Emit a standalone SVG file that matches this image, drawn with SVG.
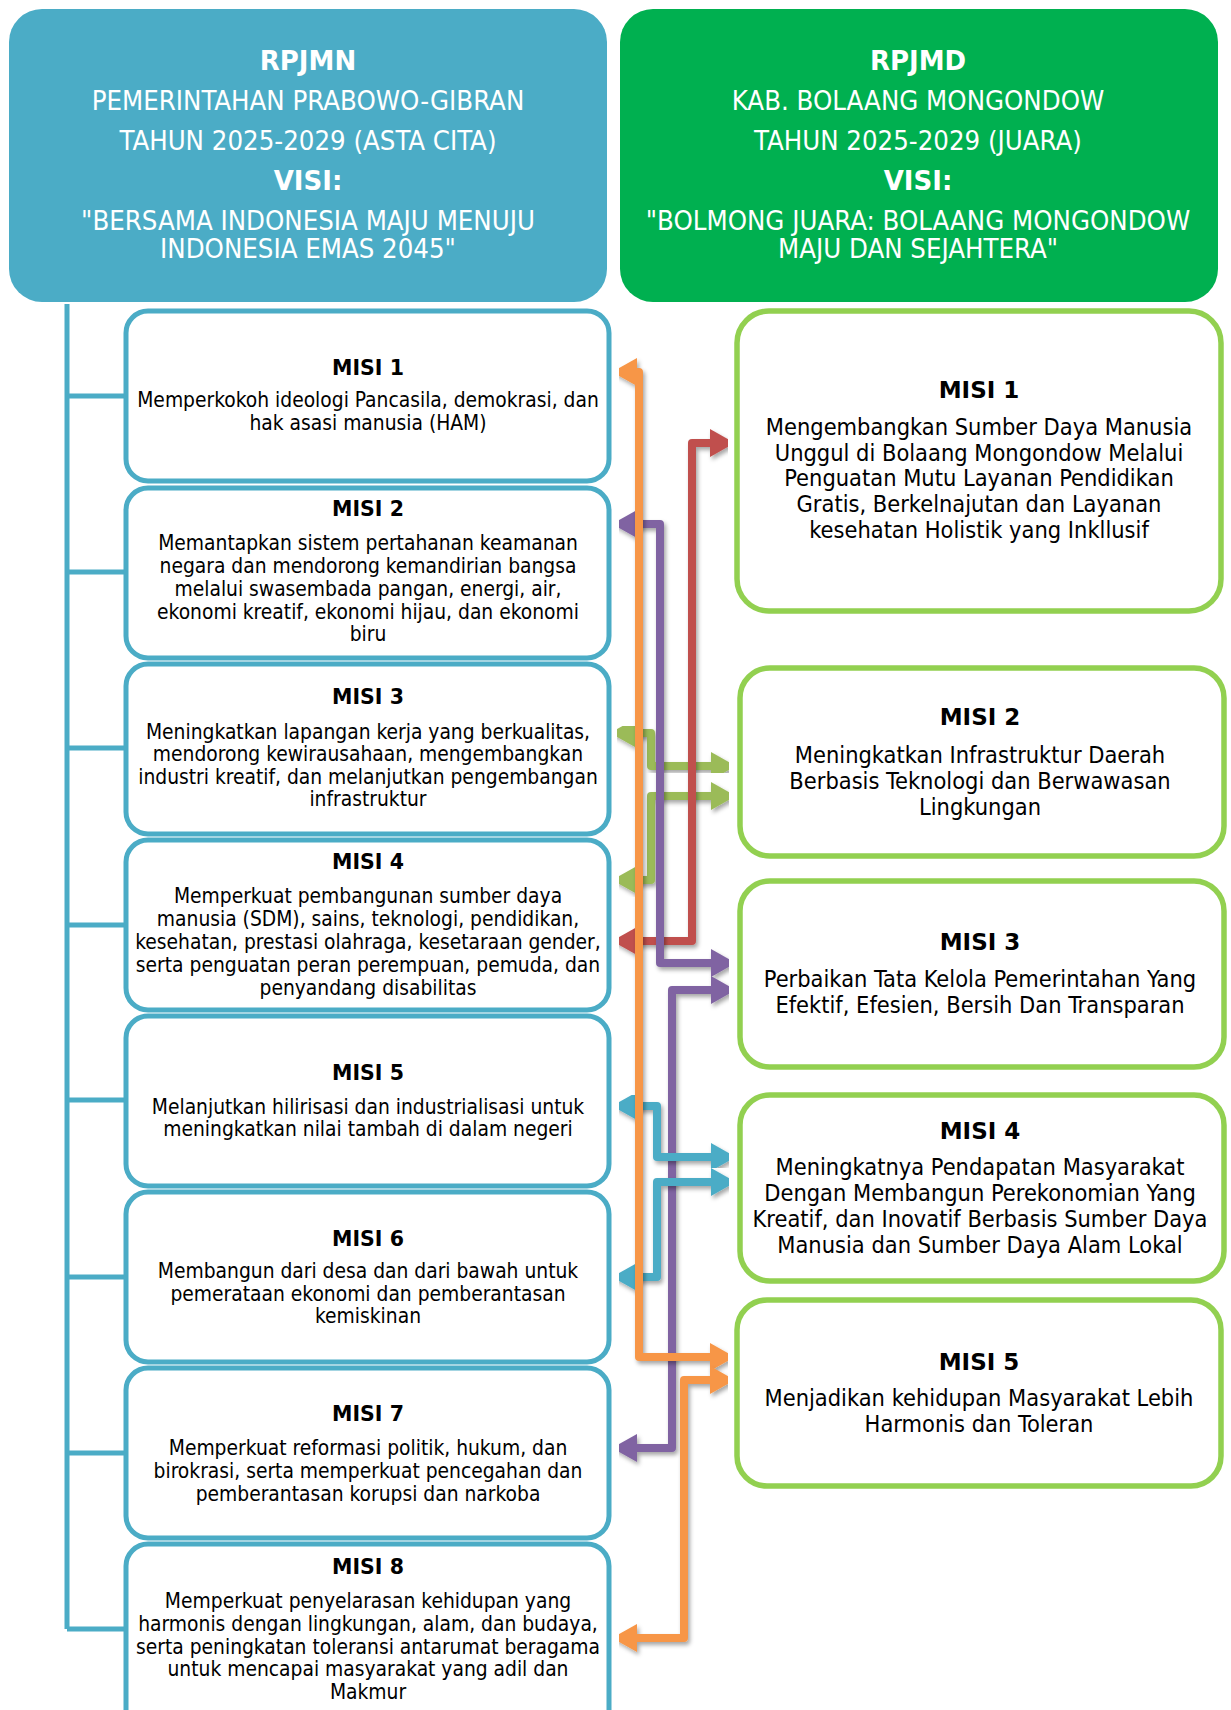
<svg xmlns="http://www.w3.org/2000/svg" width="1231" height="1710" viewBox="0 0 1231 1710">
<defs>
<style>
.hdr{font-family:'DejaVu Sans Condensed','DejaVu Sans','Liberation Sans',sans-serif;font-stretch:condensed;font-size:27.3px;fill:#fff;text-anchor:middle}
.hdrb{font-family:'DejaVu Sans','Liberation Sans',sans-serif;font-weight:bold;font-size:26px;fill:#fff;text-anchor:middle}
.lbox{fill:#fff;stroke:#4BACC6;stroke-width:5}
.rbox{fill:#fff;stroke:#92D050;stroke-width:5.5}
.lt{font-family:'DejaVu Sans','Liberation Sans',sans-serif;font-weight:bold;font-size:20.5px;fill:#000;text-anchor:middle}
.lb{font-family:'DejaVu Sans Condensed','DejaVu Sans','Liberation Sans',sans-serif;font-stretch:condensed;font-size:20.8px;fill:#000;text-anchor:middle}
.rt{font-family:'DejaVu Sans','Liberation Sans',sans-serif;font-weight:bold;font-size:23px;fill:#000;text-anchor:middle}
.rb{font-family:'DejaVu Sans Condensed','DejaVu Sans','Liberation Sans',sans-serif;font-stretch:condensed;font-size:23.4px;fill:#000;text-anchor:middle}
.tree{fill:none;stroke:#4BACC6;stroke-width:5}
.arr{fill:none;stroke-width:8;stroke-linejoin:round;filter:url(#sh)}
</style>
<filter id="sh" x="-20%" y="-20%" width="140%" height="140%">
<feDropShadow dx="2" dy="3" stdDeviation="2" flood-color="#000" flood-opacity="0.35"/>
</filter>
<marker id="mo" markerUnits="userSpaceOnUse" markerWidth="28" markerHeight="28" refX="2" refY="14" orient="auto-start-reverse"><path d="M0,0 L25,14 L0,28 z" fill="#F79646"/></marker>
<marker id="mp" markerUnits="userSpaceOnUse" markerWidth="28" markerHeight="28" refX="2" refY="14" orient="auto-start-reverse"><path d="M0,0 L25,14 L0,28 z" fill="#8064A2"/></marker>
<marker id="mr" markerUnits="userSpaceOnUse" markerWidth="28" markerHeight="28" refX="2" refY="14" orient="auto-start-reverse"><path d="M0,0 L25,14 L0,28 z" fill="#C0504D"/></marker>
<marker id="mg" markerUnits="userSpaceOnUse" markerWidth="28" markerHeight="28" refX="2" refY="14" orient="auto-start-reverse"><path d="M0,0 L25,14 L0,28 z" fill="#9BBB59"/></marker>
<marker id="mb" markerUnits="userSpaceOnUse" markerWidth="28" markerHeight="28" refX="2" refY="14" orient="auto-start-reverse"><path d="M0,0 L25,14 L0,28 z" fill="#4BACC6"/></marker>
</defs>
<rect width="1231" height="1710" fill="#fff"/>

<g id="header-rpjmn">
<rect x="9" y="9" width="598" height="293" rx="33" fill="#4BACC6"/>
<text class="hdrb" x="308" y="70">RPJMN</text>
<text class="hdr" x="308" y="110">PEMERINTAHAN PRABOWO-GIBRAN</text>
<text class="hdr" x="308" y="150">TAHUN 2025-2029 (ASTA CITA)</text>
<text class="hdrb" x="308" y="190">VISI:</text>
<text class="hdr" x="308" y="230">"BERSAMA INDONESIA MAJU MENUJU</text>
<text class="hdr" x="308" y="258">INDONESIA EMAS 2045"</text>
</g>

<g id="header-rpjmd">
<rect x="620" y="9" width="598" height="293" rx="33" fill="#00B050"/>
<text class="hdrb" x="918" y="70">RPJMD</text>
<text class="hdr" x="918" y="110">KAB. BOLAANG MONGONDOW</text>
<text class="hdr" x="918" y="150">TAHUN 2025-2029 (JUARA)</text>
<text class="hdrb" x="918" y="190">VISI:</text>
<text class="hdr" x="918" y="230">"BOLMONG JUARA: BOLAANG MONGONDOW</text>
<text class="hdr" x="918" y="258">MAJU DAN SEJAHTERA"</text>
</g>

<g id="tree">
<path class="tree" d="M67,304 V1629 M67,396 H126 M67,572 H126 M67,748 H126 M67,925 H126 M67,1100 H126 M67,1277 H126 M67,1453 H126 M67,1629 H126"/>
</g>

<g id="l-misi1">
<rect class="lbox" x="126" y="311" width="483" height="170" rx="22"/>
<text class="lt" x="368" y="375">MISI 1</text>
<text class="lb" x="368" y="407">Memperkokoh ideologi Pancasila, demokrasi, dan</text>
<text class="lb" x="368" y="430">hak asasi manusia (HAM)</text>
</g>
<g id="l-misi2">
<rect class="lbox" x="126" y="488" width="483" height="170" rx="22"/>
<text class="lt" x="368" y="516">MISI 2</text>
<text class="lb" x="368" y="550">Memantapkan sistem pertahanan keamanan</text>
<text class="lb" x="368" y="573">negara dan mendorong kemandirian bangsa</text>
<text class="lb" x="368" y="596">melalui swasembada pangan, energi, air,</text>
<text class="lb" x="368" y="619">ekonomi kreatif, ekonomi hijau, dan ekonomi</text>
<text class="lb" x="368" y="641">biru</text>
</g>
<g id="l-misi3">
<rect class="lbox" x="126" y="664" width="483" height="170" rx="22"/>
<text class="lt" x="368" y="704">MISI 3</text>
<text class="lb" x="368" y="739">Meningkatkan lapangan kerja yang berkualitas,</text>
<text class="lb" x="368" y="761">mendorong kewirausahaan, mengembangkan</text>
<text class="lb" x="368" y="784">industri kreatif, dan melanjutkan pengembangan</text>
<text class="lb" x="368" y="806">infrastruktur</text>
</g>
<g id="l-misi4">
<rect class="lbox" x="126" y="840" width="483" height="170" rx="22"/>
<text class="lt" x="368" y="869">MISI 4</text>
<text class="lb" x="368" y="903">Memperkuat pembangunan sumber daya</text>
<text class="lb" x="368" y="926">manusia (SDM), sains, teknologi, pendidikan,</text>
<text class="lb" x="368" y="949">kesehatan, prestasi olahraga, kesetaraan gender,</text>
<text class="lb" x="368" y="972">serta penguatan peran perempuan, pemuda, dan</text>
<text class="lb" x="368" y="995">penyandang disabilitas</text>
</g>
<g id="l-misi5">
<rect class="lbox" x="126" y="1016" width="483" height="170" rx="22"/>
<text class="lt" x="368" y="1080">MISI 5</text>
<text class="lb" x="368" y="1114">Melanjutkan hilirisasi dan industrialisasi untuk</text>
<text class="lb" x="368" y="1136">meningkatkan nilai tambah di dalam negeri</text>
</g>
<g id="l-misi6">
<rect class="lbox" x="126" y="1192" width="483" height="170" rx="22"/>
<text class="lt" x="368" y="1246">MISI 6</text>
<text class="lb" x="368" y="1278">Membangun dari desa dan dari bawah untuk</text>
<text class="lb" x="368" y="1301">pemerataan ekonomi dan pemberantasan</text>
<text class="lb" x="368" y="1323">kemiskinan</text>
</g>
<g id="l-misi7">
<rect class="lbox" x="126" y="1368" width="483" height="170" rx="22"/>
<text class="lt" x="368" y="1421">MISI 7</text>
<text class="lb" x="368" y="1455">Memperkuat reformasi politik, hukum, dan</text>
<text class="lb" x="368" y="1478">birokrasi, serta memperkuat pencegahan dan</text>
<text class="lb" x="368" y="1501">pemberantasan korupsi dan narkoba</text>
</g>
<g id="l-misi8">
<rect class="lbox" x="126" y="1544" width="483" height="190" rx="22"/>
<text class="lt" x="368" y="1574">MISI 8</text>
<text class="lb" x="368" y="1608">Memperkuat penyelarasan kehidupan yang</text>
<text class="lb" x="368" y="1631">harmonis dengan lingkungan, alam, dan budaya,</text>
<text class="lb" x="368" y="1654">serta peningkatan toleransi antarumat beragama</text>
<text class="lb" x="368" y="1676">untuk mencapai masyarakat yang adil dan</text>
<text class="lb" x="368" y="1699">Makmur</text>
</g>

<g id="r-misi1">
<rect class="rbox" x="737" y="311" width="484" height="300" rx="32"/>
<text class="rt" x="979" y="398">MISI 1</text>
<text class="rb" x="979" y="435">Mengembangkan Sumber Daya Manusia</text>
<text class="rb" x="979" y="461">Unggul di Bolaang Mongondow Melalui</text>
<text class="rb" x="979" y="486">Penguatan Mutu Layanan Pendidikan</text>
<text class="rb" x="979" y="512">Gratis, Berkelnajutan dan Layanan</text>
<text class="rb" x="979" y="538">kesehatan Holistik yang Inkllusif</text>
</g>
<g id="r-misi2">
<rect class="rbox" x="740" y="668" width="484" height="188" rx="30"/>
<text class="rt" x="980" y="725">MISI 2</text>
<text class="rb" x="980" y="763">Meningkatkan Infrastruktur Daerah</text>
<text class="rb" x="980" y="789">Berbasis Teknologi dan Berwawasan</text>
<text class="rb" x="980" y="815">Lingkungan</text>
</g>
<g id="r-misi3">
<rect class="rbox" x="740" y="881" width="484" height="186" rx="30"/>
<text class="rt" x="980" y="950">MISI 3</text>
<text class="rb" x="980" y="987">Perbaikan Tata Kelola Pemerintahan Yang</text>
<text class="rb" x="980" y="1013">Efektif, Efesien, Bersih Dan Transparan</text>
</g>
<g id="r-misi4">
<rect class="rbox" x="740" y="1095" width="484" height="186" rx="30"/>
<text class="rt" x="980" y="1139">MISI 4</text>
<text class="rb" x="980" y="1175">Meningkatnya Pendapatan Masyarakat</text>
<text class="rb" x="980" y="1201">Dengan Membangun Perekonomian Yang</text>
<text class="rb" x="980" y="1227">Kreatif, dan Inovatif Berbasis Sumber Daya</text>
<text class="rb" x="980" y="1253">Manusia dan Sumber Daya Alam Lokal</text>
</g>
<g id="r-misi5">
<rect class="rbox" x="737" y="1300" width="484" height="186" rx="30"/>
<text class="rt" x="979" y="1370">MISI 5</text>
<text class="rb" x="979" y="1406">Menjadikan kehidupan Masyarakat Lebih</text>
<text class="rb" x="979" y="1432">Harmonis dan Toleran</text>
</g>

<g id="connectors">
<path class="arr" stroke="#9BBB59" marker-start="url(#mg)" marker-end="url(#mg)" d="M633,733 L651,733 L651,766 L713,766"/>
<path class="arr" stroke="#9BBB59" marker-start="url(#mg)" marker-end="url(#mg)" d="M635,880 L651,880 L651,796 L713,796"/>
<path class="arr" stroke="#C0504D" marker-start="url(#mr)" marker-end="url(#mr)" d="M635,941 L692,941 L692,443 L712,443"/>
<path class="arr" stroke="#8064A2" marker-start="url(#mp)" marker-end="url(#mp)" d="M635,524 L660,524 L660,963 L713,963"/>
<path class="arr" stroke="#8064A2" marker-start="url(#mp)" marker-end="url(#mp)" d="M635,1448 L672,1448 L672,990 L713,990"/>
<path class="arr" stroke="#4BACC6" marker-start="url(#mb)" marker-end="url(#mb)" d="M635,1106 L657,1106 L657,1157 L713,1157"/>
<path class="arr" stroke="#4BACC6" marker-start="url(#mb)" marker-end="url(#mb)" d="M635,1277 L657,1277 L657,1182 L713,1182"/>
<path class="arr" stroke="#F79646" marker-start="url(#mo)" marker-end="url(#mo)" d="M635,372 L639,372 L639,1357 L712,1357"/>
<path class="arr" stroke="#F79646" marker-start="url(#mo)" marker-end="url(#mo)" d="M635,1638 L684,1638 L684,1380 L712,1380"/>
</g>
</svg>
